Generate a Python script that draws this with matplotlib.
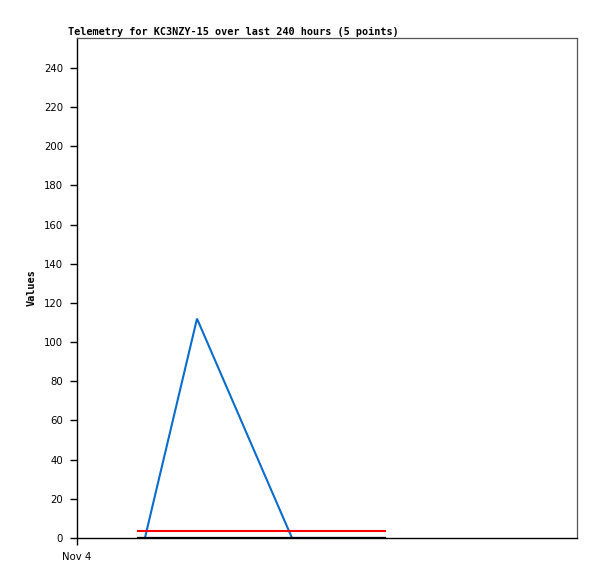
import matplotlib
matplotlib.use("Agg")
import matplotlib.pyplot as plt

# hours since Nov 4 00:00
blue_hours = [29.3, 32.6, 57.6, 103.2, 147.8]
blue_values = [0, 0, 112, 0, 0]
red_hours = [29.3, 147.8]
red_values = [3.6, 3.6]
black_hours = [29.3, 147.8]
black_values = [0, 0]

y_ticks = list(range(0, 241, 20))
x_ticks = [0]
x_tick_labels = ["Nov 4"]
title = "Telemetry for KC3NZY-15 over last 240 hours (5 points)"

W, H = 597, 579
fig = plt.figure(figsize=(W / 100, H / 100), dpi=100)
ax = fig.add_axes([77 / W, (H - 538) / H, 500 / W, 500 / H])

ax.plot(blue_hours, blue_values, color="#0a6ccc", linewidth=1.5, solid_joinstyle="miter")
ax.plot(red_hours, red_values, color="#ff0000", linewidth=1.5)
ax.plot(black_hours, black_values, color="#000000", linewidth=1.6)

ax.set_xlim(0, 240)
ax.set_ylim(0, 255.3)
ax.set_yticks(y_ticks)
ax.set_xticks(x_ticks)
ax.set_xticklabels(x_tick_labels)

for lab in ax.get_yticklabels() + ax.get_xticklabels():
    lab.set_fontfamily("DejaVu Sans")
    lab.set_fontsize(7.3)
ax.tick_params(axis="both", direction="out", length=5, width=1, color="black", pad=5)

for side in ("top", "right"):
    ax.spines[side].set_color("#555555")
    ax.spines[side].set_linewidth(0.9)
for side in ("left", "bottom"):
    ax.spines[side].set_color("black")
    ax.spines[side].set_linewidth(1)

ax.set_ylabel("Values", fontfamily="DejaVu Sans Mono", fontweight="bold", fontsize=7.4, labelpad=5)
fig.text(68 / W, 1 - 35 / H, title, fontfamily="DejaVu Sans Mono", fontweight="bold",
         fontsize=7.3, ha="left", va="baseline")

fig.savefig("out.png", dpi=100)
